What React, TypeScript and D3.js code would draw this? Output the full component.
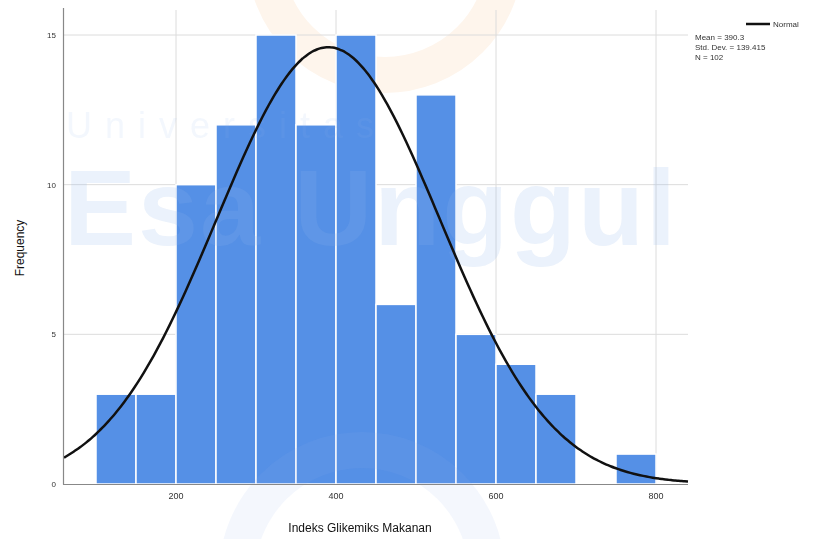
import React from 'react';
import * as d3 from 'd3';

// histogram bins (width 50) and counts
const binStarts = [100, 150, 200, 250, 300, 350, 400, 450, 500, 550, 600, 650, 700, 750];
const binCounts = [3, 3, 10, 12, 15, 12, 15, 6, 13, 5, 4, 3, 0, 1];
const xTicks = [200, 400, 600, 800];
const yTicks = [0, 5, 10, 15];
const legendLines = ['Mean = 390.3', 'Std. Dev. = 139.415', 'N = 102'];
const meanVal = 390.3;
const sdVal = 139.415;
const nVal = 102;
const binWidth = 50;

const W = 826;
const H = 539;

export default function App() {
  const xScale = d3.scaleLinear().domain([60, 840]).range([64, 688]);
  const yScale = d3.scaleLinear().domain([0, 15]).range([484, 35]);

  // normal curve points
  const curveX = d3.range(60, 841, 4);
  const normal = (v: number) =>
    (nVal * binWidth) / (sdVal * Math.sqrt(2 * Math.PI)) *
    Math.exp(-((v - meanVal) ** 2) / (2 * sdVal * sdVal));
  const line = d3.line<number>()
    .x((d) => xScale(d))
    .y((d) => yScale(normal(d)))
    .curve(d3.curveBasis);

  const font = 'Arial, "Liberation Sans", sans-serif';

  return (
    <svg width={W} height={H} style={{position: 'absolute', left: 0, top: 0}} fontFamily={font}>
      <rect width={W} height={H} fill="#fff" />
      {/* orange ring watermark, behind */}
      <circle cx={385} cy={-45} r={120} fill="none" stroke="#fef5ec" strokeWidth={36} />
      {/* grid */}
      {yTicks.filter((t) => t > 0).map((t) => (
        <line key={'gy' + t} x1={64} x2={688} y1={yScale(t)} y2={yScale(t)} stroke="#dcdcdc" strokeWidth={1} />
      ))}
      {xTicks.map((t) => (
        <line key={'gx' + t} x1={xScale(t)} x2={xScale(t)} y1={10} y2={484} stroke="#dcdcdc" strokeWidth={1} />
      ))}
      {/* bars */}
      {binStarts.map((b, i) => binCounts[i] > 0 && (
        <rect key={'b' + b}
          x={xScale(b)} width={xScale(b + binWidth) - xScale(b)}
          y={yScale(binCounts[i])} height={yScale(0) - yScale(binCounts[i])}
          fill="#5590e6" stroke="#fff" strokeWidth={1.5} />
      ))}
      {/* blue watermark, over bars */}
      <g fill="#8fb5ea" opacity={0.18}>
        <text x={66} y={138} fontSize={36} letterSpacing={13} opacity={0.6}>Universitas</text>
        <text x={64} y={245} fontSize={108} fontWeight="bold" letterSpacing={2}>Esa Unggul</text>
      </g>
      <circle cx={362} cy={575} r={125} fill="none" stroke="#8fb5ea" strokeWidth={36} opacity={0.1} />
      {/* normal curve */}
      <path d={line(curveX) || ''} fill="none" stroke="#111" strokeWidth={2.5} />
      {/* axes */}
      <line x1={63.5} x2={63.5} y1={8} y2={484.5} stroke="#888" strokeWidth={1.2} />
      <line x1={63} x2={688} y1={484.5} y2={484.5} stroke="#888" strokeWidth={1.2} />
      {yTicks.map((t) => (
        <text key={'yt' + t} x={56} y={yScale(t) + 3} fontSize={8} fill="#333" textAnchor="end">{t}</text>
      ))}
      {xTicks.map((t) => (
        <text key={'xt' + t} x={xScale(t)} y={499} fontSize={9} fill="#333" textAnchor="middle">{t}</text>
      ))}
      <text x={0} y={0} transform="translate(24,248) rotate(-90)" fontSize={12} fill="#111" textAnchor="middle">Frequency</text>
      <text x={360} y={532} fontSize={12} fill="#111" textAnchor="middle">Indeks Glikemiks Makanan</text>
      {/* legend */}
      <line x1={746} x2={770} y1={24} y2={24} stroke="#111" strokeWidth={2.5} />
      <text x={773} y={27} fontSize={8} fill="#333">Normal</text>
      {legendLines.map((s, i) => (
        <text key={s} x={695} y={40 + i * 10} fontSize={8} fill="#333">{s}</text>
      ))}
    </svg>
  );
}
